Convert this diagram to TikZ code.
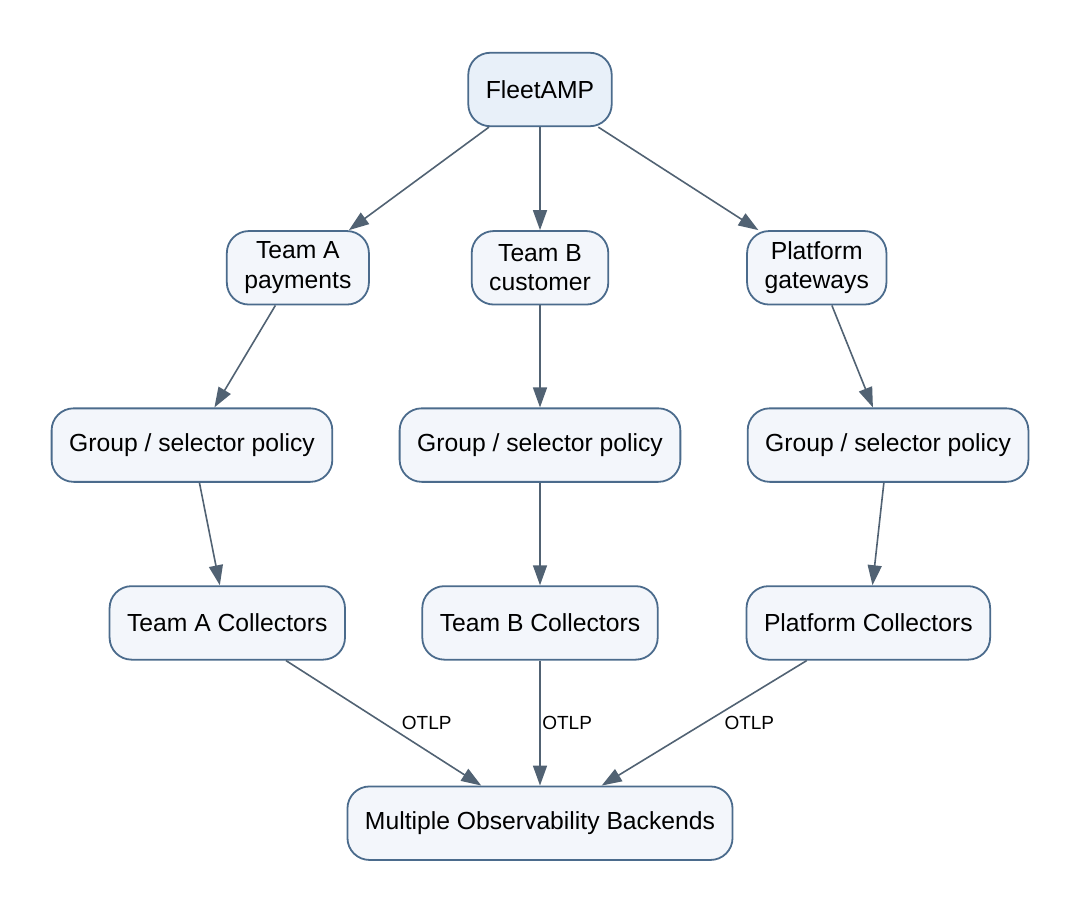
\documentclass[tikz,border=0pt]{standalone}
\usepackage{fontspec}
\setmainfont{Liberation Sans}
\usetikzlibrary{positioning,arrows.meta}
\definecolor{nodeline}{HTML}{4B6B8C}
\definecolor{nodefill}{HTML}{F3F6FB}
\definecolor{topfill}{HTML}{E8F0F9}
\definecolor{edgeline}{HTML}{516273}
\tikzset{
  fig/.style={font=\fontsize{24.7}{29.5}\selectfont},
  box/.style={draw=nodeline,line width=1.8pt,fill=nodefill,rounded corners=22pt,
              minimum height=73.5pt,inner xsep=17.5pt,align=center},
  topbox/.style={box,fill=topfill},
  ln/.style={-{Triangle[length=20pt,width=14pt]},line width=1.6pt,draw=edgeline},
  lbl/.style={font=\fontsize{19}{22}\selectfont,inner sep=1.5pt},
}
\begin{document}
\begin{tikzpicture}[fig]
\useasboundingbox (0,0) rectangle (1081pt,-912pt);

% --- top and team rows
\node[topbox] (fleet) at (540pt,-89.5pt) {FleetAMP};
\node[box,below=103pt of fleet] (teamb) {Team B\\customer};
\node[box,left=101pt of teamb]  (teama) {Team A\\payments};
\node[box,right=137pt of teamb] (plat)  {Platform\\gateways};

% --- policies
\node[box,below=102pt of teamb] (polb) {Group / selector policy};
\node[box,left=65.5pt of polb]  (pola) {Group / selector policy};
\node[box,right=65.5pt of polb] (polc) {Group / selector policy};

% --- collectors and backends
\node[box,below=102.5pt of polb] (colb) {Team B Collectors};
\node[box,left=75.5pt of colb]  (cola) {Team A Collectors};
\node[box,right=87pt of colb]   (colc) {Platform Collectors};
\node[box,below=125pt of colb]  (back) {Multiple Observability Backends};

\draw[ln] (fleet) -- (teama);
\draw[ln] (fleet) -- (teamb);
\draw[ln] (fleet) -- (plat);
\draw[ln] (teama) -- (pola);
\draw[ln] (teamb) -- (polb);
\draw[ln] (plat)  -- (polc);
\draw[ln] (pola) -- (cola);
\draw[ln] (polb) -- (colb);
\draw[ln] (polc) -- (colc);
\draw[ln] (cola) -- node[lbl,right=16pt]{OTLP} (back);
\draw[ln] (colb) -- node[lbl,right=0pt]{OTLP} (back);
\draw[ln] (colc) -- node[lbl,right=18pt]{OTLP} (back);

\end{tikzpicture}
\end{document}
